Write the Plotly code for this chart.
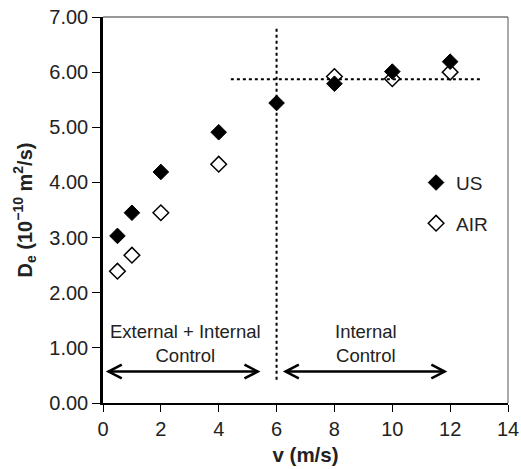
import plotly.graph_objects as go

# Data
v_us = [0.5, 1, 2, 4, 6, 8, 10, 12]
de_us = [3.03, 3.45, 4.19, 4.91, 5.44, 5.79, 6.01, 6.19]
v_air = [0.5, 1, 2, 4, 8, 10, 12]
de_air = [2.39, 2.68, 3.45, 4.33, 5.92, 5.88, 6.00]

x_ticks = [0, 2, 4, 6, 8, 10, 12, 14]
y_ticks = [0, 1, 2, 3, 4, 5, 6, 7]

FONT = "Liberation Sans, Arial, Helvetica, sans-serif"

fig = go.Figure()
fig.add_trace(go.Scatter(x=v_us, y=de_us, mode="markers", name="US", legendgroup="a",
                         marker=dict(symbol="diamond", size=12, color="black",
                                     line=dict(color="black", width=1))))
fig.add_trace(go.Scatter(x=v_air, y=de_air, mode="markers", name="AIR", legendgroup="b",
                         marker=dict(symbol="diamond-open", size=12, color="black",
                                     line=dict(color="black", width=1.5))))

shapes = []
# dotted reference lines
shapes.append(dict(type="line", xref="x", yref="y", x0=4.42, x1=13.06, y0=5.87, y1=5.87,
                   line=dict(color="black", width=2, dash="dot")))
shapes.append(dict(type="line", xref="x", yref="y", x0=6, x1=6, y0=0.42, y1=6.80,
                   line=dict(color="black", width=2, dash="dot")))
# double arrows
ay = 0.57
dx, dy = 0.46, 0.125
for xa, xb in [(0.19, 5.35), (6.31, 11.81)]:
    shapes.append(dict(type="line", xref="x", yref="y", x0=xa, x1=xb, y0=ay, y1=ay,
                       line=dict(color="black", width=2.5)))
    shapes.append(dict(type="path", xref="x", yref="y",
                       path=f"M {xa+dx},{ay+dy} L {xa},{ay} L {xa+dx},{ay-dy}",
                       line=dict(color="black", width=2.5)))
    shapes.append(dict(type="path", xref="x", yref="y",
                       path=f"M {xb-dx},{ay+dy} L {xb},{ay} L {xb-dx},{ay-dy}",
                       line=dict(color="black", width=2.5)))
# top and right frame
shapes.append(dict(type="line", xref="paper", yref="paper", x0=0, x1=1, y0=1, y1=1,
                   line=dict(color="#333", width=1.2)))
shapes.append(dict(type="line", xref="paper", yref="paper", x0=1, x1=1, y0=0, y1=1,
                   line=dict(color="#555", width=1)))

annotations = [
    dict(x=2.86, y=1.08, xref="x", yref="y", text="External + Internal<br>Control",
         showarrow=False, font=dict(size=18.5, family=FONT, color="#222")),
    dict(x=9.1, y=1.08, xref="x", yref="y", text="Internal<br>Control",
         showarrow=False, font=dict(size=18.5, family=FONT, color="#222")),
]

fig.update_layout(
    width=521, height=469,
    margin=dict(l=103, r=13, t=17, b=66, autoexpand=False),
    paper_bgcolor="white", plot_bgcolor="white",
    font=dict(family=FONT, size=20, color="#222"),
    shapes=shapes, annotations=annotations,
    showlegend=True,
    legend=dict(x=0.773, y=0.62, xanchor="left", yanchor="top",
                bgcolor="rgba(0,0,0,0)", font=dict(size=19, family=FONT),
                tracegroupgap=13, traceorder="grouped", itemwidth=30),
    xaxis=dict(range=[0, 14], tickvals=x_ticks, ticks="outside", ticklen=7, tickwidth=1,
               tickcolor="black", showline=True, linecolor="black", linewidth=1.5,
               showgrid=False, zeroline=False, automargin=False,
               title=dict(text="<b>v (m/s)</b>", standoff=9, font=dict(size=20.5, family=FONT))),
    yaxis=dict(range=[0, 7], tickvals=y_ticks, tickformat=".2f", ticks="outside", ticklen=8,
               tickwidth=1, tickcolor="black", showline=True, linecolor="black", linewidth=2.5,
               showgrid=False, zeroline=False, automargin=False,
               title=dict(text="<b>D<sub>e</sub> (10<sup>−10</sup> m<sup>2</sup>/s)</b>",
                          standoff=12, font=dict(size=20, family=FONT))),
)

fig.write_html("out.html")
